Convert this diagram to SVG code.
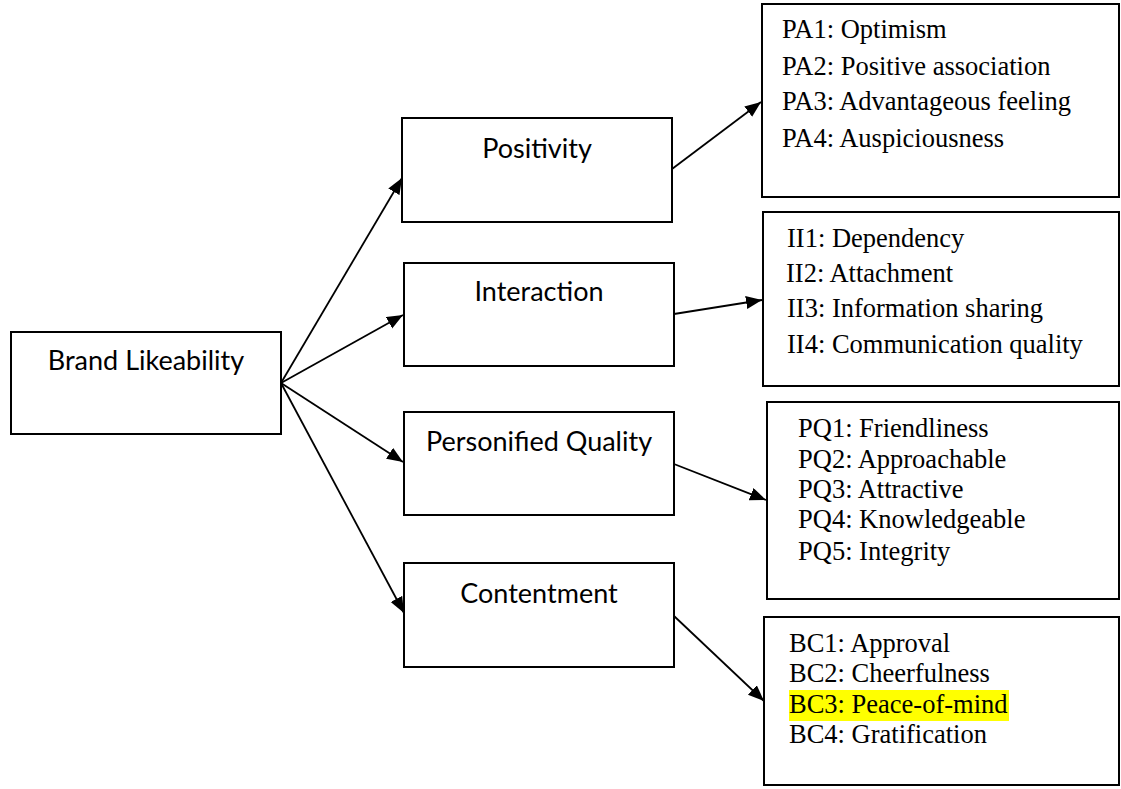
<svg xmlns="http://www.w3.org/2000/svg" width="1121" height="789" viewBox="0 0 1121 789">
<style>
.box{fill:#fff;stroke:#000;stroke-width:2}
.lbl{font-family:Lato,"Open Sans","Liberation Sans",sans-serif;font-size:27px;fill:#000;text-anchor:middle}
.itm{font-family:"Liberation Serif","Times New Roman",serif;font-size:26.5px;fill:#000}
.con line{stroke:#000;stroke-width:1.8}
</style>
<defs>
<marker id="ah" markerUnits="userSpaceOnUse" markerWidth="17" markerHeight="14" refX="16" refY="6.5" orient="auto">
<path d="M0,0 L16,6.5 L0,13 z" fill="#000"/>
</marker>
</defs>
<rect width="1121" height="789" fill="#fff"/>
<g id="brand">
<rect class="box" x="11" y="332" width="270" height="102"/>
<text class="lbl" x="146" y="370">Brand Likeability</text>
</g>
<g id="positivity">
<rect class="box" x="402" y="118" width="270" height="104"/>
<text class="lbl" x="537" y="158">Positivity</text>
</g>
<g id="interaction">
<rect class="box" x="404" y="263" width="270" height="103"/>
<text class="lbl" x="539" y="301">Interaction</text>
</g>
<g id="personified">
<rect class="box" x="404" y="412" width="270" height="103"/>
<text class="lbl" x="539" y="451">Personified Quality</text>
</g>
<g id="contentment">
<rect class="box" x="404" y="563" width="270" height="104"/>
<text class="lbl" x="539" y="603">Contentment</text>
</g>
<g id="pa">
<rect class="box" x="762" y="4" width="357" height="193"/>
<text class="itm" x="782" y="38">PA1: Optimism</text>
<text class="itm" x="782" y="75">PA2: Positive association</text>
<text class="itm" x="782" y="110">PA3: Advantageous feeling</text>
<text class="itm" x="782" y="147">PA4: Auspiciousness</text>
</g>
<g id="ii">
<rect class="box" x="763" y="212" width="356" height="174"/>
<text class="itm" x="787" y="247">II1: Dependency</text>
<text class="itm" x="786" y="282">II2: Attachment</text>
<text class="itm" x="787" y="317">II3: Information sharing</text>
<text class="itm" x="787" y="353">II4: Communication quality</text>
</g>
<g id="pq">
<rect class="box" x="767" y="402" width="352" height="197"/>
<text class="itm" x="798" y="437">PQ1: Friendliness</text>
<text class="itm" x="798" y="468">PQ2: Approachable</text>
<text class="itm" x="798" y="498">PQ3: Attractive</text>
<text class="itm" x="798" y="528">PQ4: Knowledgeable</text>
<text class="itm" x="798" y="560">PQ5: Integrity</text>
</g>
<g id="bc">
<rect class="box" x="764" y="617" width="355" height="168"/>
<rect x="789" y="690" width="220" height="31" fill="#ffff00"/>
<text class="itm" x="789" y="652">BC1: Approval</text>
<text class="itm" x="789" y="682">BC2: Cheerfulness</text>
<text class="itm" x="789" y="713">BC3: Peace-of-mind</text>
<text class="itm" x="789" y="743">BC4: Gratification</text>
</g>
<g class="con" id="connectors">
<line x1="281" y1="383" x2="402" y2="178" marker-end="url(#ah)"/>
<line x1="281" y1="383" x2="403" y2="315" marker-end="url(#ah)"/>
<line x1="281" y1="383" x2="403" y2="462" marker-end="url(#ah)"/>
<line x1="281" y1="383" x2="404" y2="613" marker-end="url(#ah)"/>
<line x1="672" y1="169" x2="761" y2="102" marker-end="url(#ah)"/>
<line x1="674" y1="314" x2="762" y2="300" marker-end="url(#ah)"/>
<line x1="674" y1="464" x2="766" y2="500" marker-end="url(#ah)"/>
<line x1="674" y1="616" x2="764" y2="701" marker-end="url(#ah)"/>
</g>
</svg>
